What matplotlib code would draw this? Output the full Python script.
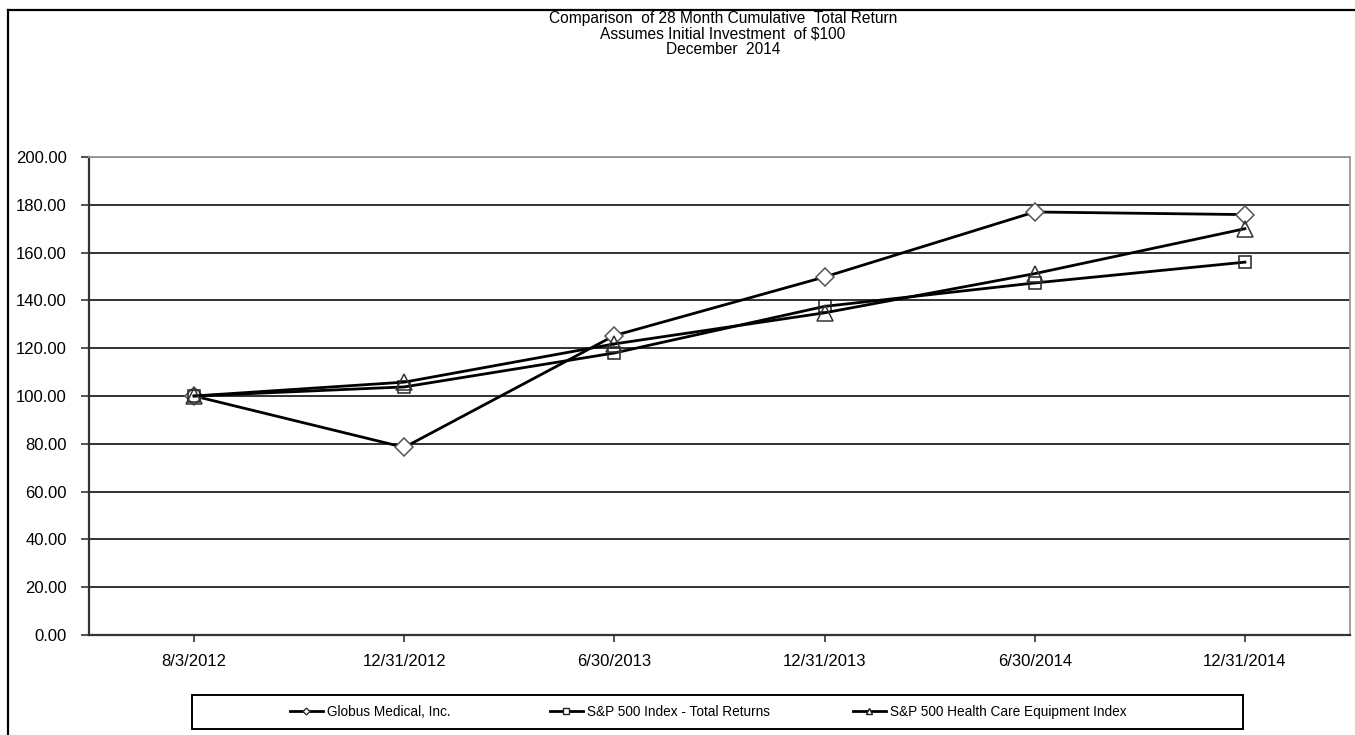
import matplotlib
matplotlib.use("Agg")
import matplotlib.pyplot as plt
from matplotlib.lines import Line2D
from matplotlib.patches import Rectangle

dates = ["8/3/2012", "12/31/2012", "6/30/2013", "12/31/2013", "6/30/2014", "12/31/2014"]
globus = [100.0, 78.5, 125.3, 149.8, 177.0, 175.9]
sp500 = [100.0, 103.8, 118.0, 137.5, 147.3, 156.0]
hc_equip = [100.0, 105.8, 121.8, 134.8, 151.2, 170.0]
series_names = ["Globus Medical, Inc.", "S&P 500 Index - Total Returns",
                "S&P 500 Health Care Equipment Index"]
title_lines = ["Comparison  of 28 Month Cumulative  Total Return",
               "Assumes Initial Investment  of $100",
               "December  2014"]

W, H = 1355, 735
fig = plt.figure(figsize=(W / 100, H / 100), dpi=100)
fig.patch.set_facecolor("white")

def fx(px):
    return px / W

def fy(py):
    return 1 - py / H

# outer border (left and top)
fig.add_artist(Line2D([fx(8), fx(8)], [fy(10), 0], color="black", lw=1.6,
                      transform=fig.transFigure))
fig.add_artist(Line2D([fx(8), 1], [fy(10), fy(10)], color="black", lw=1.6,
                      transform=fig.transFigure))

narrow = ["Liberation Sans Narrow", "Liberation Sans", "DejaVu Sans"]
sans = ["Liberation Sans", "DejaVu Sans"]

for i, t in enumerate(title_lines):
    fig.text(fx(723), fy(18 + i * 15.5), t, ha="center", va="center",
             fontsize=11.2, family=narrow)

left, right, top, bottom = 89, 1350, 157, 635
ax = fig.add_axes([fx(left), fy(bottom), fx(right - left), (bottom - top) / H])
x = list(range(len(dates)))

ax.set_xlim(-0.5, len(dates) - 0.5)
ax.set_ylim(0, 200)
ax.set_yticks([0, 20, 40, 60, 80, 100, 120, 140, 160, 180, 200])
ax.set_yticklabels([f"{v:.2f}" for v in ax.get_yticks()])
ax.set_xticks(x)
ax.set_xticklabels(dates)
for lab in ax.get_xticklabels() + ax.get_yticklabels():
    lab.set_family(sans)
    lab.set_fontsize(12)
ax.tick_params(axis="y", direction="out", length=6, width=1.2, pad=10, color="#333333")
ax.tick_params(axis="x", direction="out", length=5, width=1.2, pad=9, color="#333333")
ax.yaxis.grid(True, color="#222222", lw=1.3)
ax.set_axisbelow(True)
ax.spines["left"].set_color("#333333")
ax.spines["left"].set_linewidth(1.6)
ax.spines["bottom"].set_color("#333333")
ax.spines["bottom"].set_linewidth(1.6)
ax.spines["top"].set_color("#999999")
ax.spines["top"].set_linewidth(1.3)
ax.spines["right"].set_color("#999999")
ax.spines["right"].set_linewidth(1.3)

ax.plot(x, globus, color="black", lw=2.0, marker="D", ms=9, mfc="white",
        mec="#555555", mew=1.1, zorder=3)
ax.plot(x, sp500, color="black", lw=2.0, marker="s", ms=9, mfc="none",
        mec="#222222", mew=1.1, zorder=3)
ax.plot(x, hc_equip, color="black", lw=2.0, marker="^", ms=11, mfc="none",
        mec="#333333", mew=1.1, zorder=3)

# legend
fig.add_artist(Rectangle((fx(192), fy(729)), fx(1243 - 192), (729 - 695) / H,
                         fill=False, ec="black", lw=1.4, transform=fig.transFigure))
handles = [
    Line2D([], [], color="black", lw=2.0, marker="D", ms=3.5, mfc="white", mec="#333333"),
    Line2D([], [], color="black", lw=2.0, marker="s", ms=4, mfc="white", mec="#222222"),
    Line2D([], [], color="black", lw=2.0, marker="^", ms=4, mfc="white", mec="#222222"),
]
starts = [290, 550, 853]
for h, name, sx in zip(handles, series_names, starts):
    fig.legend([h], [name], loc="center left",
               bbox_to_anchor=(fx(sx), fy(712)), frameon=False, borderpad=0,
               borderaxespad=0, prop={"family": sans, "size": 9.8},
               handlelength=2.4, handletextpad=0.3)

fig.savefig("out.png", dpi=100, facecolor="white")
